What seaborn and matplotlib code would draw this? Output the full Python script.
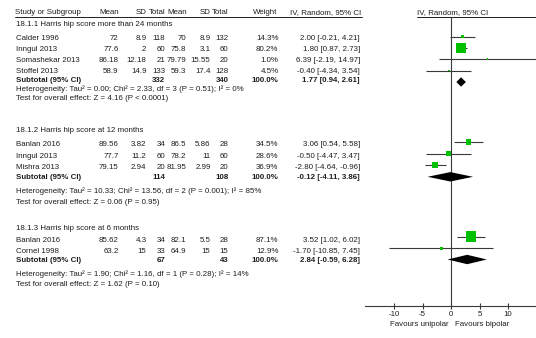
import numpy as np
import pandas as pd
import matplotlib
matplotlib.use('Agg')
import matplotlib.pyplot as plt
import seaborn as sns

sns.set_theme(style='white')
plt.rcParams['font.family'] = ['Liberation Sans', 'DejaVu Sans']
FS = 5.7

# ---------------- data ----------------
groups = ['18.1.1 Harris hip score more than 24 months',
          '18.1.2 Harris hip score at 12 months',
          '18.1.3 Harris hip score at 6 months']
study = ['Calder 1996', 'Inngul 2013', 'Somashekar 2013', 'Stoffel 2013',
         'Banlan 2016', 'Inngul 2013', 'Mishra 2013',
         'Banlan 2016', 'Cornel 1998']
exp_mean = ['72', '77.6', '86.18', '58.9', '89.56', '77.7', '79.15', '85.62', '63.2']
exp_sd = ['8.9', '2', '12.18', '14.9', '3.82', '11.2', '2.94', '4.3', '15']
exp_total = ['118', '60', '21', '133', '34', '60', '20', '34', '33']
ctl_mean = ['70', '75.8', '79.79', '59.3', '86.5', '78.2', '81.95', '82.1', '64.9']
ctl_sd = ['8.9', '3.1', '15.55', '17.4', '5.86', '11', '2.99', '5.5', '15']
ctl_total = ['132', '60', '20', '128', '28', '60', '20', '28', '15']
weight = [14.3, 80.2, 1.0, 4.5, 34.5, 28.6, 36.9, 87.1, 12.9]
md = [2.00, 1.80, 6.39, -0.40, 3.06, -0.50, -2.80, 3.52, -1.70]
lo = [-0.21, 0.87, -2.19, -4.34, 0.54, -4.47, -4.64, 1.02, -10.85]
hi = [4.21, 2.73, 14.97, 3.54, 5.58, 3.47, -0.96, 6.02, 7.45]

sub_exp_total = ['332', '114', '67']
sub_ctl_total = ['340', '108', '43']
sub_md = [1.77, -0.12, 2.84]
sub_lo = [0.94, -4.11, -0.59]
sub_hi = [2.61, 3.86, 6.28]
het = ['Heterogeneity: Tau² = 0.00; Chi² = 2.33, df = 3 (P = 0.51); I² = 0%',
       'Heterogeneity: Tau² = 10.33; Chi² = 13.56, df = 2 (P = 0.001); I² = 85%',
       'Heterogeneity: Tau² = 1.90; Chi² = 1.16, df = 1 (P = 0.28); I² = 14%']
test = ['Test for overall effect: Z = 4.16 (P < 0.0001)',
        'Test for overall effect: Z = 0.06 (P = 0.95)',
        'Test for overall effect: Z = 1.62 (P = 0.10)']
xticks = [-10, -5, 0, 5, 10]
xticklabels = ['-10', '-5', '0', '5', '10']

# ---------------- layout (pixels) ----------------
W, H = 536, 338
study_y = [36.5, 48, 59, 70.7, 142, 153.7, 165.3, 236.8, 248.3]
study_text_y = [39, 49.6, 61, 71.4, 144.5, 156, 167.3, 240.3, 251.2]
sub_y = [82, 176.8, 259.5]
sub_text_y = [80.6, 177.6, 261]
head_y = [25, 130, 228]
het_y = [89.6, 191, 274]
test_y = [98.6, 202.7, 285]
TXT = '#1e1e1e'

fig = plt.figure(figsize=(W / 100, H / 100), dpi=100)
ax = fig.add_axes([0, 0, 1, 1])
ax.set_xlim(0, W)
ax.set_ylim(H, 0)
ax.axis('off')

def t(x, y, s, ha='left', bold=False):
    ax.text(x, y, s, ha=ha, va='center', fontsize=FS, color=TXT,
            fontweight='bold' if bold else 'normal')

# column anchors (right edges)
cx = [118.5, 146.5, 165.2, 186.5, 210.6, 228.5]

hy = 13
t(15, hy, 'Study or Subgroup')
for x, s in zip(cx, ['Mean', 'SD', 'Total', 'Mean', 'SD', 'Total']):
    t(x + 0.3, hy, s, ha='right')
t(277, hy, 'Weight', ha='right')
t(361, hy, 'IV, Random, 95% CI', ha='right')
t(417, hy, 'IV, Random, 95% CI')
ax.plot([15, 362], [16.8, 16.8], color=TXT, lw=0.7)
ax.plot([417, 536], [16.8, 16.8], color=TXT, lw=0.7)

cols = [exp_mean, exp_sd, exp_total, ctl_mean, ctl_sd, ctl_total]
for i, y in enumerate(study_text_y):
    t(15.5, y, study[i])
    for x, arr in zip(cx, cols):
        t(x, y, arr[i], ha='right')
    t(278.5, y, f'{weight[i]:.1f}%', ha='right')
    t(360, y, f'{md[i]:.2f} [{lo[i]:.2f}, {hi[i]:.2f}]', ha='right')

for g in range(3):
    ty = sub_text_y[g]
    t(15.5, head_y[g], groups[g])
    t(15.5, ty, 'Subtotal (95% CI)', bold=True)
    t(cx[2], ty, sub_exp_total[g], ha='right', bold=True)
    t(cx[5], ty, sub_ctl_total[g], ha='right', bold=True)
    t(278.5, ty, '100.0%', ha='right', bold=True)
    t(360, ty, f'{sub_md[g]:.2f} [{sub_lo[g]:.2f}, {sub_hi[g]:.2f}]', ha='right', bold=True)
    t(15.5, het_y[g], het[g])
    t(15.5, test_y[g], test[g])

t(449, 324.5, 'Favours unipolar', ha='right')
t(455, 324.5, 'Favours bipolar')

# ---------------- forest axes ----------------
X0, SCALE = 451, 5.7
fax = fig.add_axes([365 / W, 0, (W - 365) / W, 1])
fax.patch.set_alpha(0)
df = pd.DataFrame({'md': md, 'y': study_y, 'weight': weight})
# marker side (px) grows with weight^0.7, converted to area in pt^2
size_map = {w: (max(1.6, 0.465 * w ** 0.7) * 0.72) ** 2 for w in weight}
fax.hlines(study_y, lo, hi, color='#3a3a3a', lw=0.8, zorder=2)
sns.scatterplot(data=df, x='md', y='y', size='weight', sizes=size_map,
                marker='s', color='#00c000', edgecolor='none', linewidth=0,
                legend=False, ax=fax, zorder=3)
dh = 4.7
for g in range(3):
    fax.fill([sub_lo[g], sub_md[g], sub_hi[g], sub_md[g]],
             [sub_y[g], sub_y[g] - dh, sub_y[g], sub_y[g] + dh],
             color='black', lw=0, zorder=3)
fax.vlines(0, 16.8, 306, color='#3a3a3a', lw=0.8, zorder=1)
fax.set_xlim((365 - X0) / SCALE, (W - X0) / SCALE)
fax.set_ylim(H, 0)
fax.set_xlabel('')
fax.set_ylabel('')
for s in ['top', 'left', 'right']:
    fax.spines[s].set_visible(False)
fax.spines['bottom'].set_position(('data', 306))
fax.spines['bottom'].set_color('#3a3a3a')
fax.spines['bottom'].set_linewidth(0.8)
fax.set_yticks([])
fax.set_xticks(xticks)
fax.set_xticklabels(xticklabels)
fax.tick_params(axis='x', direction='inout', length=5, width=0.8, color='#3a3a3a',
                labelsize=FS, labelcolor=TXT, pad=1.0, bottom=True)

fig.savefig('out.png', dpi=100)
